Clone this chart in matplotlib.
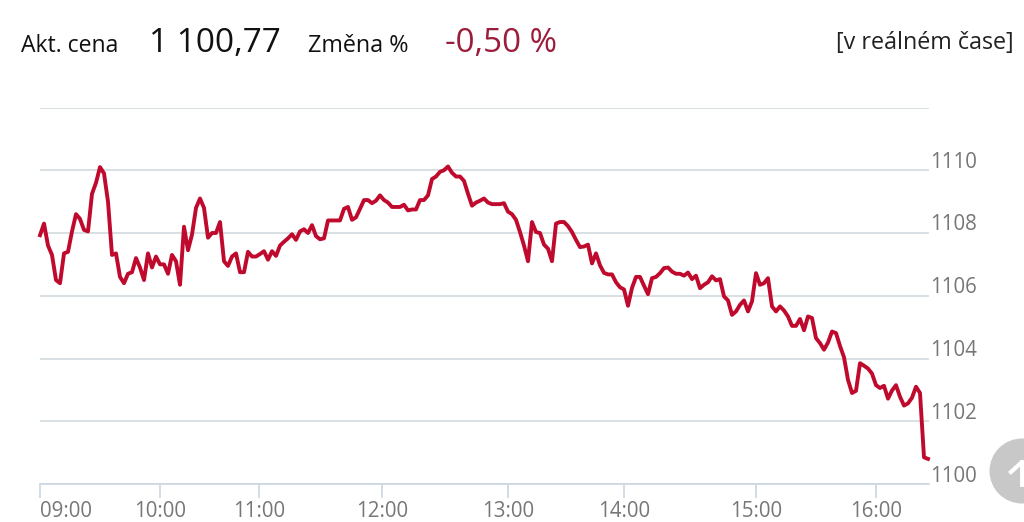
import matplotlib
matplotlib.use("Agg")
import matplotlib.pyplot as plt
from matplotlib.patches import Circle
from matplotlib.transforms import ScaledTranslation

prices = [
 1107.93,1108.3,1107.6,1107.3,1106.5,1106.4,1107.35,1107.4,1108.05,1108.6,
 1108.45,1108.1,1108.05,1109.25,1109.6,1110.1,1109.9,1109.0,1107.3,1107.35,
 1106.6,1106.4,1106.7,1106.75,1107.2,1106.9,1106.5,1107.35,1106.9,1107.25,
 1107.0,1107.0,1106.7,1107.3,1107.1,1106.35,1108.2,1107.45,1107.95,1108.8,
 1109.1,1108.8,1107.85,1108.0,1108.0,1108.35,1107.1,1106.95,1107.25,1107.35,
 1106.75,1106.75,1107.4,1107.25,1107.25,1107.33,1107.42,1107.15,1107.42,1107.27,
 1107.6,1107.72,1107.83,1107.96,1107.78,1108.05,1108.12,1108.0,1108.25,1107.9,
 1107.8,1107.83,1108.4,1108.4,1108.4,1108.4,1108.77,1108.83,1108.42,1108.5,
 1108.77,1109.05,1109.05,1108.95,1109.03,1109.2,1109.05,1108.97,1108.83,1108.83,
 1108.83,1108.9,1108.72,1108.75,1108.75,1109.05,1109.05,1109.2,1109.72,1109.8,
 1109.95,1110.0,1110.12,1109.92,1109.8,1109.8,1109.66,1109.25,1108.87,1108.97,
 1109.03,1109.1,1108.97,1108.92,1108.92,1108.92,1108.95,1108.68,1108.6,1108.42,
 1108.03,1107.6,1107.1,1108.35,1108.03,1108.0,1107.63,1107.5,1107.1,1108.3,
 1108.35,1108.35,1108.22,1108.03,1107.78,1107.55,1107.57,1107.63,1107.03,1107.35,
 1106.97,1106.73,1106.68,1106.68,1106.43,1106.27,1106.2,1105.68,1106.25,1106.6,
 1106.6,1106.32,1106.05,1106.56,1106.6,1106.72,1106.88,1106.9,1106.77,1106.7,
 1106.7,1106.64,1106.74,1106.53,1106.64,1106.24,1106.35,1106.43,1106.62,1106.49,
 1106.53,1105.98,1105.85,1105.39,1105.5,1105.71,1105.85,1105.5,1105.82,1106.72,
 1106.35,1106.4,1106.56,1105.66,1105.5,1105.66,1105.53,1105.34,1105.04,1105.04,
 1105.26,1104.9,1105.34,1105.29,1104.65,1104.49,1104.28,1104.51,1104.86,1104.81,
 1104.4,1104.04,1103.32,1102.9,1102.97,1103.85,1103.77,1103.68,1103.52,1103.15,
 1103.06,1103.13,1102.72,1102.98,1103.15,1102.78,1102.5,1102.57,1102.75,1103.1,
 1102.9,1100.85,1100.8,
]
hour_slots = [0, 30, 54.75, 85.5, 117, 146, 179, 209]
hour_labels = ["09:00", "10:00", "11:00", "12:00", "13:00", "14:00", "15:00", "16:00"]
price_ticks = [1100, 1102, 1104, 1106, 1108, 1110, 1112]
price_labels = ["1100", "1102", "1104", "1106", "1108", "1110", ""]

plt.rcParams["font.family"] = ["Open Sans", "DejaVu Sans"]
W, H = 1024, 522
fig = plt.figure(figsize=(W / 100, H / 100), dpi=100, facecolor="white")
ax = fig.add_axes([40 / W, 1 - 484 / H, (929 - 40) / W, (484 - 107.5) / H])
ax.set_xlim(0, 222.25)
ax.set_ylim(1100, 1112)
ax.patch.set_alpha(0)
for s in ["top", "left", "right"]:
    ax.spines[s].set_visible(False)
ax.spines["bottom"].set_color("#ccd6e0")
ax.spines["bottom"].set_linewidth(1.2)
ax.grid(axis="y", color="#d6dde0", lw=1.3)
ax.set_axisbelow(True)
ax.plot(range(len(prices)), prices, color="#c00a2d", lw=2.8, solid_joinstyle="round", clip_on=False)

ax.set_xticks(hour_slots, hour_labels)
ax.tick_params(axis="x", length=10, width=1.2, color="#ccd6e0", labelsize=14.8, labelcolor="#777777", pad=2)
ax.get_xticklabels()[0].set_ha("left")
ax.set_yticks(price_ticks, price_labels)
ax.yaxis.tick_right()
ax.tick_params(axis="y", length=0, labelsize=14.8, labelcolor="#777777", pad=1)
shift = ScaledTranslation(0, -2.5 / 100, fig.dpi_scale_trans)
for lab in ax.get_yticklabels():
    lab.set_verticalalignment("bottom")
    lab.set_transform(lab.get_transform() + shift)

over = fig.add_axes([0, 0, 1, 1], zorder=5)
over.set_xlim(0, W)
over.set_ylim(H, 0)
over.axis("off")
over.add_patch(Circle((1022, 471), 32.5, color="#c8c8c8", lw=0))
over.plot([1011, 1022, 1033], [472, 462, 472], color="white", lw=3)
over.plot([1022, 1022], [462, 484], color="white", lw=3.5)

head = [
    (21, "Akt. cena", 16.6, "#111111", "left", 52),
    (149, "1 100,77", 24, "#111111", "left", 52),
    (308, "Změna %", 16.8, "#111111", "left", 52),
    (445, "-0,50 %", 23.9, "#9c1c3c", "left", 52),
    (1014, "[v reálném čase]", 16.8, "#222222", "right", 49),
]
for x, t, fs, c, ha, y in head:
    over.text(x, y, t, fontsize=fs, color=c, ha=ha, va="baseline")

fig.savefig("out.png", dpi=100)
